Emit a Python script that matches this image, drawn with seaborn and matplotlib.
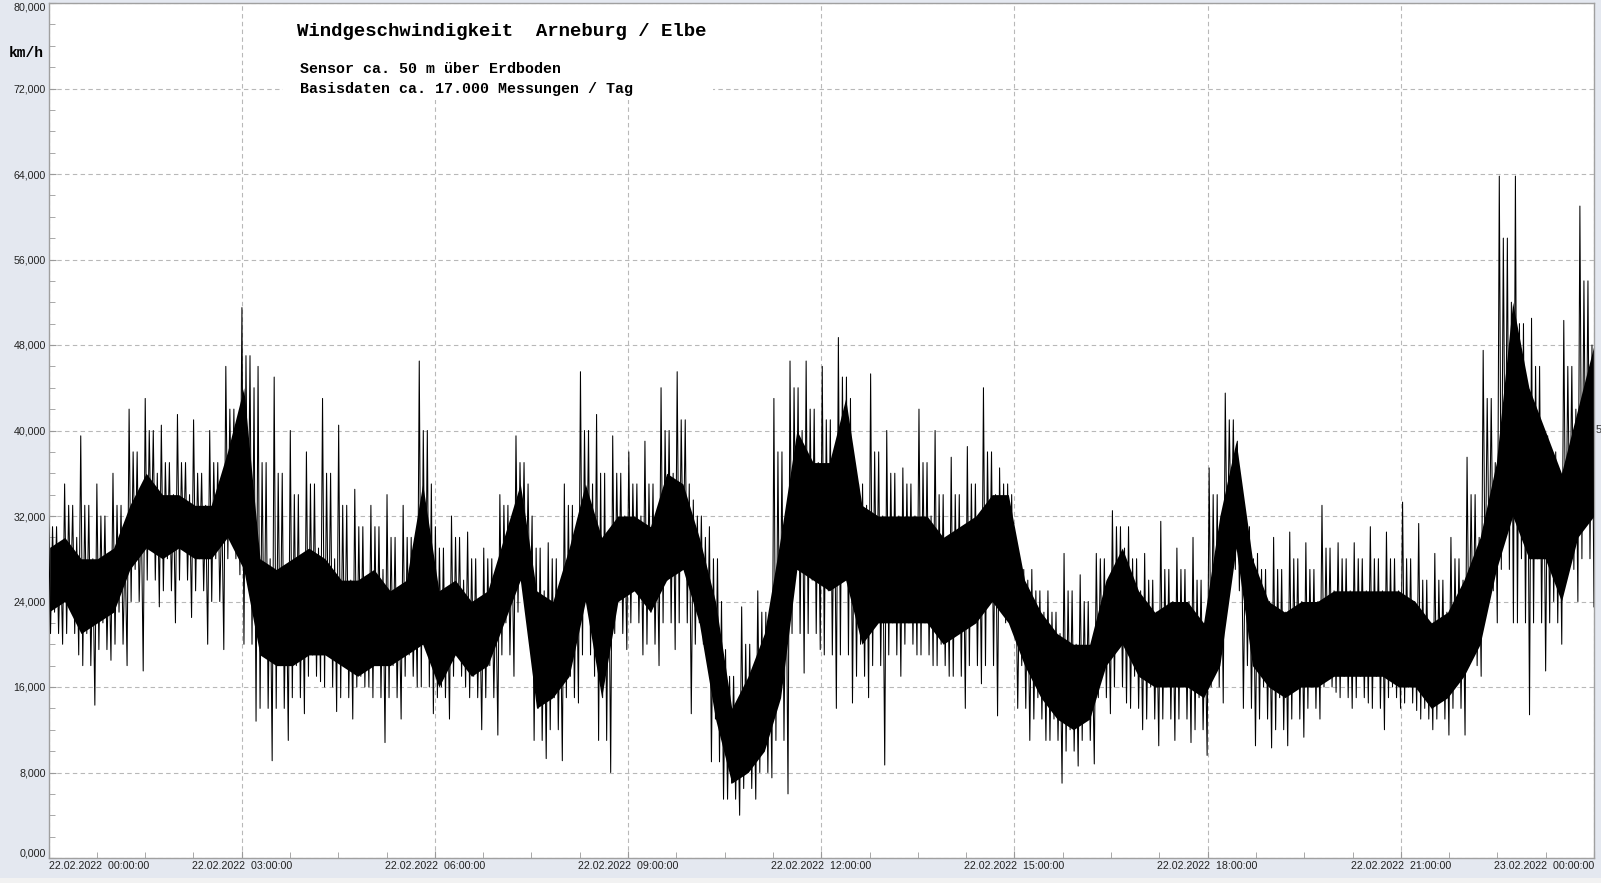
import numpy as np
import pandas as pd
import seaborn as sns
import matplotlib.pyplot as plt
from matplotlib.patches import Rectangle
from matplotlib.ticker import MultipleLocator

# Windgeschwindigkeit 22.02.2022, abgelesen je 15-Minuten-Block (km/h)
# einzelne Spitzen nach oben
spitze_hoch = [32, 35, 39.5, 35, 36, 42, 43, 40.5, 41.5, 41, 40, 46,
               51.5, 46, 45, 40, 38, 43, 40.5, 34.5, 33, 34, 33, 46.5,
               31, 32, 30.5, 29, 34, 39.5, 32, 29.5, 35, 45.5, 41.5, 39.5,
               38, 39, 44, 45.5, 33.5, 31, 19.5, 23.5, 25, 43, 46.5, 46.5,
               46, 48.7, 37, 45.3, 40, 36.5, 42, 40, 37.5, 38.5, 44, 36.5,
               27.5, 27, 25, 28.5, 26.5, 28.5, 32.5, 31, 28.5, 31.5, 29, 30,
               36.5, 43.5, 33.5, 28.5, 30, 30.5, 29.5, 33, 29.5, 29.5, 31, 30.5,
               33.3, 31.3, 28.5, 30, 37.5, 47.5, 63.8, 63.8, 50.5, 39.5, 50.3, 61]
# oberer Rand der dichten Ausschläge
rand_oben = [31, 33, 33, 32, 33, 38, 40, 37, 37, 36, 37, 42,
             47, 37, 36, 34, 35, 36, 33, 31, 31, 30, 30, 40,
             29, 30, 28, 28, 33, 37, 29, 28, 33, 40, 36, 36,
             35, 35, 40, 41, 32, 28, 17, 20, 23, 38, 44, 42,
             41, 45, 35, 38, 36, 35, 37, 34, 34, 35, 38, 35,
             27, 25, 23, 25, 24, 28, 31, 28, 26, 27, 27, 26,
             34, 41, 31, 27, 27, 28, 27, 29, 28, 28, 28, 28,
             28, 26, 26, 28, 34, 43, 58, 50, 46, 38, 46, 54]
# dichter Kern
kern_oben = [29, 30, 28, 28, 29, 33, 36, 34, 34, 33, 33, 38,
             44, 28, 27, 28, 29, 28, 26, 26, 27, 25, 26, 35,
             25, 26, 24, 25, 30, 35, 25, 24, 29, 35, 30, 32,
             32, 31, 36, 35, 30, 24, 14, 17, 21, 30, 40, 37,
             37, 43, 33, 32, 32, 32, 32, 30, 31, 32, 34, 34,
             26, 23, 21, 20, 20, 26, 29, 25, 23, 24, 24, 22,
             32, 39, 28, 24, 23, 24, 24, 25, 25, 25, 25, 25,
             24, 22, 23, 26, 30, 37, 52, 44, 40, 36, 42, 48]
kern_unten = [23, 24, 21, 22, 23, 27, 29, 28, 29, 28, 28, 30,
              27, 19, 18, 18, 19, 19, 18, 17, 18, 18, 19, 20,
              16, 19, 17, 18, 22, 26, 14, 15, 17, 24, 15, 24,
              25, 23, 26, 27, 22, 13, 7, 8, 10, 15, 27, 26,
              25, 26, 20, 22, 22, 22, 22, 20, 21, 22, 24, 22,
              18, 15, 13, 12, 13, 18, 20, 17, 16, 16, 16, 15,
              18, 29, 18, 16, 15, 16, 16, 17, 17, 17, 17, 16,
              16, 14, 15, 17, 20, 27, 32, 28, 28, 24, 30, 32]
# unterer Rand der dichten Ausschläge
rand_unten = [21, 21, 18, 19.5, 20, 24, 26, 25, 26, 25, 24, 28,
              20, 14, 14, 15, 17, 16, 15, 16, 15, 15, 17, 16,
              15, 17, 15, 15, 19, 23, 11, 12, 15, 19, 11, 21,
              22, 20, 22, 22, 20, 9, 5.5, 6.5, 8, 11, 21, 21,
              19, 19, 17, 18, 19, 20, 19, 18, 17, 18, 18, 23,
              14, 13, 11, 10, 11, 15, 16, 14, 13, 13, 13, 12,
              16, 27, 14, 13, 12, 13, 14, 16, 15, 15, 14, 15,
              14.5, 13, 13, 14, 18, 25, 27, 22, 22, 22, 27, 28]
# einzelne Spitzen nach unten
spitze_tief = [20, 19, 14.3, 18.5, 18, 17.5, 23.5, 22, 22.5, 20, 19.5, 26.5,
               12.8, 9.1, 11, 13.5, 16.5, 13.7, 13, 16, 10.8, 13, 16, 13.5,
               13, 16, 12, 11.5, 17, 22, 9.3, 9.1, 14.5, 17, 8, 19.5,
               19, 18, 19.5, 13.5, 18.5, 5.5, 4, 5.5, 7.5, 6, 17.3, 19.5,
               14, 14.5, 15, 8.7, 17, 19, 18, 17, 14, 16.3, 13.3, 22,
               11, 11, 7, 8.6, 8.8, 13.5, 14.5, 12, 10.5, 11, 10.8, 9.6,
               14.5, 25, 10.5, 10.3, 10.5, 11.3, 13, 15.5, 14, 14.5, 12, 14,
               13.8, 12, 11.5, 11.5, 17, 22, 22, 13.4, 17.5, 20, 24, 23.5]

x_labels = ['22.02.2022  00:00:00', '22.02.2022  03:00:00', '22.02.2022  06:00:00',
            '22.02.2022  09:00:00', '22.02.2022  12:00:00', '22.02.2022  15:00:00',
            '22.02.2022  18:00:00', '22.02.2022  21:00:00', '23.02.2022  00:00:00']
y_ticks = [0, 8, 16, 24, 32, 40, 48, 56, 64, 72, 80]

plt.rcParams['font.family'] = ['Liberation Sans', 'DejaVu Sans']

# Messverlauf: pro Block zickzack zwischen Spitzen, Rand und Kern
verlauf = np.column_stack([spitze_hoch, rand_unten, rand_oben, kern_unten,
                           rand_oben, rand_unten, kern_oben, spitze_tief]).ravel()
df = pd.DataFrame({'Stunde': np.linspace(0, 24, len(verlauf)), 'kmh': verlauf})
kern_x = np.linspace(0, 24, len(kern_unten))

fig = plt.figure(figsize=(16.01, 8.83), dpi=100, facecolor='#e4e8f0')
W, H = 1601, 883
ax = fig.add_axes([48.5 / W, 1 - 858 / H, (1594 - 48.5) / W, (858 - 3) / H])
ax.set_facecolor('white')

ax.fill_between(kern_x, kern_unten, kern_oben, color='black', lw=0, zorder=2)
sns.lineplot(data=df, x='Stunde', y='kmh', color='black', lw=0.75,
             estimator=None, sort=False, ax=ax, zorder=3)

ax.set_xlim(0, 24)
ax.set_ylim(0, 80)
ax.set_xlabel('')
ax.set_ylabel('')

ax.set_xticks(range(0, 25, 3))
ax.set_xticklabels(x_labels)
ax.xaxis.set_minor_locator(MultipleLocator(0.75))
ax.set_yticks(y_ticks)
ax.set_yticklabels([f'{v:.3f}'.replace('.', ',') for v in y_ticks])
ax.yaxis.set_minor_locator(MultipleLocator(2))

xl = ax.get_xticklabels()
xl[0].set_ha('left')
xl[-1].set_ha('right')
yl = ax.get_yticklabels()
yl[0].set_va('bottom')
yl[-1].set_va('top')

ax.tick_params(which='both', direction='in', colors='#9a9a9a', labelcolor='#222222',
               labelsize=7.7, pad=2)
ax.tick_params(which='major', length=5)
ax.tick_params(which='minor', length=4)

ax.set_axisbelow(True)
ax.grid(which='major', color='#b8b8b8', ls=(0, (4, 3)), lw=0.8)
for s in ax.spines.values():
    s.set_color('#a0a0a0')
    s.set_linewidth(1)

# weisse Fläche hinter dem Titelblock
ax.add_patch(Rectangle((283 / W, 1 - 100 / H), (713 - 283) / W, 95 / H,
                       transform=fig.transFigure, facecolor='white',
                       edgecolor='none', zorder=1))

mono = ['Liberation Mono', 'DejaVu Sans Mono']
fig.text(297 / W, 1 - 32 / H, 'Windgeschwindigkeit  Arneburg / Elbe',
         family=mono, weight='bold', size=13.7, va='center')
fig.text(300 / W, 1 - 69 / H, 'Sensor ca. 50 m über Erdboden',
         family=mono, weight='bold', size=10.8, va='center')
fig.text(300 / W, 1 - 89 / H, 'Basisdaten ca. 17.000 Messungen / Tag',
         family=mono, weight='bold', size=10.8, va='center')
fig.text(9 / W, 1 - 53 / H, 'km/h', family=mono, weight='bold', size=10.5,
         va='center')
fig.text(1596 / W, 1 - 430 / H, '5', size=8, va='center', color='#333333')

fig.add_artist(Rectangle((0, 0), 1, 5 / H, transform=fig.transFigure,
                         facecolor='#f2f2f2', edgecolor='none'))

plt.savefig('out.png', dpi=100, facecolor=fig.get_facecolor())
